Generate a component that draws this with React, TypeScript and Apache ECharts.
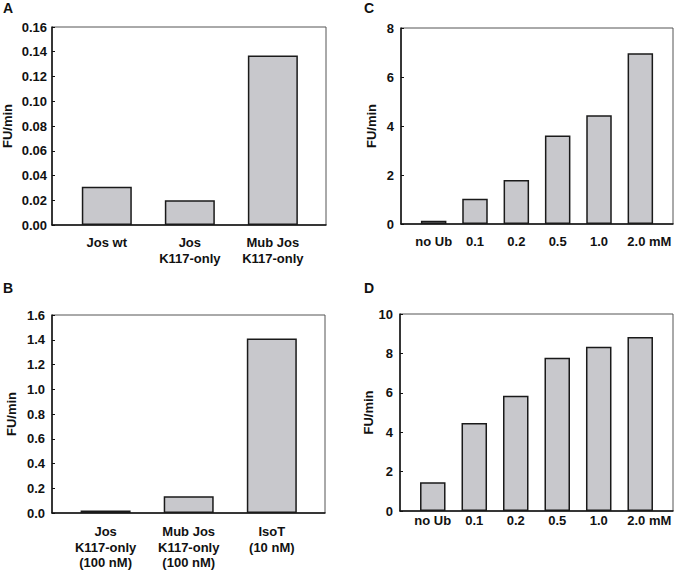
import React, { useEffect, useRef } from "react";
import * as echarts from "echarts";

const catsA = ["Jos wt", "Jos\nK117-only", "Mub Jos\nK117-only"];
const valsA = [0.031, 0.02, 0.137];
const catsB = ["Jos\nK117-only\n(100 nM)", "Mub Jos\nK117-only\n(100 nM)", "IsoT\n(10 nM)"];
const valsB = [0.02, 0.135, 1.41];
const catsCD = ["no Ub", "0.1", "0.2", "0.5", "1.0", "2.0 mM"];
const valsC = [0.13, 1.03, 1.8, 3.61, 4.44, 6.97];
const valsD = [1.46, 4.47, 5.85, 7.78, 8.34, 8.83];
const panelLetters = ["A", "B", "C", "D"];

const FONT = "'Liberation Sans', Arial, Helvetica, sans-serif";
const TXT = "#111";

export default function App() {
  const ref = useRef<HTMLDivElement>(null);
  useEffect(() => {
    if (!ref.current) return;
    const chart = echarts.init(ref.current, undefined, { renderer: "svg" });

    const panels = [
      { cats: catsA, vals: valsA, grid: { left: 52, top: 27, width: 274, height: 198 }, xmin: -0.66, xmax: 2.64, yMax: 0.16, yInt: 0.02, dec: 2, barW: 50, lblMargin: 10, yMargin: 5, nameGap: 38 },
      { cats: catsB, vals: valsB, grid: { left: 52, top: 315, width: 273, height: 198 }, xmin: -0.645, xmax: 2.64, yMax: 1.6, yInt: 0.2, dec: 1, barW: 50, lblMargin: 11, yMargin: 7, nameGap: 34 },
      { cats: catsCD, vals: valsC, grid: { left: 401, top: 28, width: 272, height: 196 }, xmin: -0.79, xmax: 5.79, yMax: 8, yInt: 2, dec: 0, barW: 25.5, lblMargin: 10, yMargin: 7, nameGap: 23 },
      { cats: catsCD, vals: valsD, grid: { left: 400, top: 314, width: 273, height: 197 }, xmin: -0.79, xmax: 5.79, yMax: 10, yInt: 2, dec: 0, barW: 25.5, lblMargin: 2, yMargin: 7, nameGap: 23 },
    ];

    const titlePos = [
      { left: 3, top: 1 },
      { left: 3, top: 281 },
      { left: 364, top: 1 },
      { left: 364, top: 281 },
    ];

    const option: any = {
      animation: false,
      backgroundColor: "#fff",
      title: panelLetters.map((t, i) => ({
        text: t,
        left: titlePos[i].left,
        top: titlePos[i].top,
        padding: 0,
        textStyle: { fontSize: 14, fontWeight: "bold", fontFamily: FONT, color: TXT },
      })),
      grid: panels.map((p) => ({
        ...p.grid,
        show: true,
        borderColor: "#555",
        borderWidth: 1,
        backgroundColor: "transparent",
        containLabel: false,
      })),
      xAxis: panels.map((p, i) => ({
        type: "value",
        gridIndex: i,
        min: p.xmin,
        max: p.xmax,
        splitLine: { show: false },
        axisTick: { show: false },
        axisLine: { show: true, onZero: false, lineStyle: { color: "#111", width: 1.5 } },
        axisLabel: {
          customValues: p.cats.map((_, k) => k),
          margin: p.lblMargin,
          fontSize: 13,
          fontWeight: "bold",
          fontFamily: FONT,
          color: TXT,
          lineHeight: 15.5,
          formatter: (v: number) => {
            const s = p.cats[Math.round(v)] ?? "";
            if (s === "2.0 mM") return "{m|2.0 mM}";
            return s;
          },
          rich: {
            m: { fontSize: 13, fontWeight: "bold", fontFamily: FONT, color: TXT, padding: [0, 0, 0, 18], lineHeight: 15.5 },
          },
        },
      })),
      yAxis: panels.map((p, i) => ({
        type: "value",
        gridIndex: i,
        min: 0,
        max: p.yMax,
        interval: p.yInt,
        name: "FU/min",
        nameLocation: "middle",
        nameGap: p.nameGap,
        nameRotate: 90,
        nameTextStyle: { fontSize: 13, fontWeight: "bold", fontFamily: FONT, color: TXT },
        splitLine: { show: false },
        axisLine: { show: true, onZero: false, lineStyle: { color: "#111", width: 1.5 } },
        axisTick: { show: true, inside: true, length: 3, lineStyle: { color: "#111", width: 1 } },
        axisLabel: {
          margin: p.yMargin,
          fontSize: 13,
          fontWeight: "bold",
          fontFamily: FONT,
          color: TXT,
          formatter: (v: number) => v.toFixed(p.dec),
        },
      })),
      series: panels.map((p, i) => ({
        type: "bar",
        xAxisIndex: i,
        yAxisIndex: i,
        barWidth: p.barW,
        data: p.vals.map((v, k) => [k, v]),
        itemStyle: { color: "#c8c8cc", borderColor: "#1a1a1a", borderWidth: 1.5 },
        emphasis: { disabled: true },
      })),
    };

    chart.setOption(option);
    return () => chart.dispose();
  }, []);

  return (
    <div
      ref={ref}
      style={{ position: "absolute", left: 0, top: 0, width: 680, height: 573, background: "#fff" }}
    />
  );
}
